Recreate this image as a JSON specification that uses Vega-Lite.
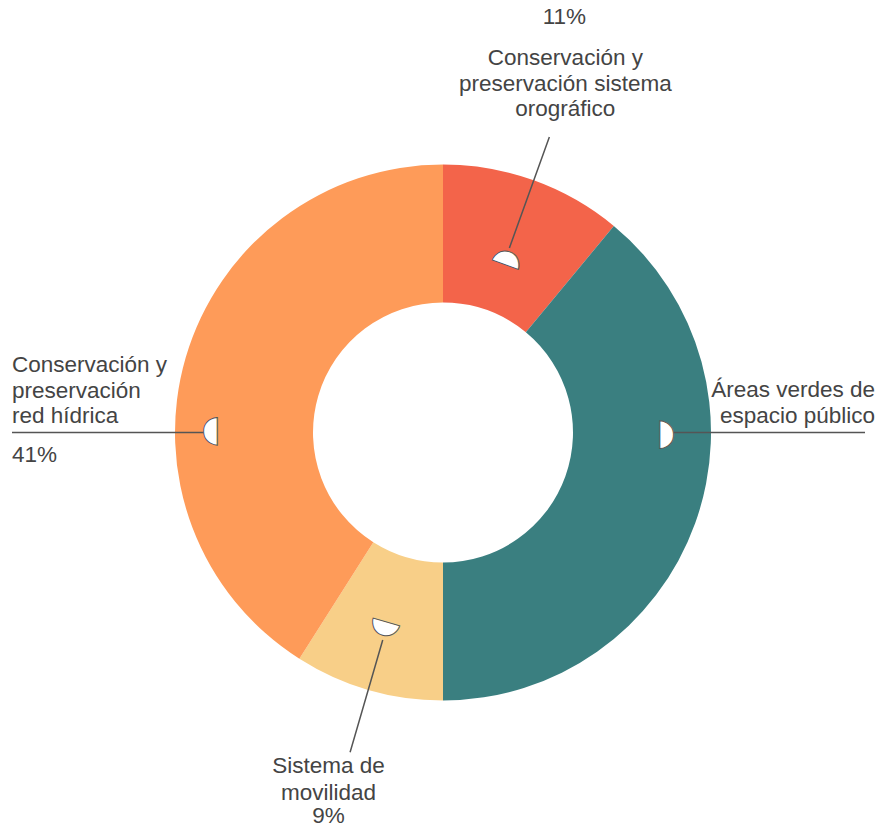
{
  "$schema": "https://vega.github.io/schema/vega-lite/v6.json",
  "width": 880,
  "height": 793,
  "autosize": {"type": "none"},
  "padding": {"left": 3, "top": 36, "right": 0, "bottom": 0},
  "background": "white",
  "config": {"view": {"stroke": null}},
  "data": {
    "values": [
      {"categoria": "Conservación y preservación sistema orográfico", "etiqueta": "Conservación y\npreservación sistema\norográfico", "valor": 11, "orden": 1},
      {"categoria": "Áreas verdes de espacio público", "etiqueta": "Áreas verdes de\nespacio público", "valor": 39, "orden": 2},
      {"categoria": "Sistema de movilidad", "etiqueta": "Sistema de\nmovilidad", "valor": 9, "orden": 3},
      {"categoria": "Conservación y preservación red hídrica", "etiqueta": "Conservación y\npreservación\nred hídrica", "valor": 41, "orden": 4}
    ]
  },
  "transform": [
    {"window": [{"op": "sum", "field": "valor", "as": "fin"}], "sort": [{"field": "orden"}], "frame": [null, 0]},
    {"calculate": "datum.fin - datum.valor", "as": "inicio"},
    {"calculate": "datum.inicio <= 25 && datum.fin >= 25 ? 25 : (datum.inicio <= 75 && datum.fin >= 75 ? 75 : (datum.inicio + datum.fin) / 2)", "as": "pos"},
    {"calculate": "datum.pos * 3.6 - 90", "as": "giro"},
    {"calculate": "datum.valor + '%'", "as": "pct"}
  ],
  "layer": [
    {
      "mark": {"type": "arc", "outerRadius": 268, "innerRadius": 130},
      "encoding": {
        "theta": {"field": "valor", "type": "quantitative", "stack": true, "scale": {"domain": [0, 100]}},
        "order": {"field": "orden", "type": "quantitative"},
        "color": {
          "field": "categoria",
          "type": "nominal",
          "legend": null,
          "scale": {
            "domain": ["Conservación y preservación sistema orográfico", "Áreas verdes de espacio público", "Sistema de movilidad", "Conservación y preservación red hídrica"],
            "range": ["#F3644A", "#3A7F80", "#F8CF88", "#FE9B59"]
          }
        }
      }
    },
    {
      "transform": [{"filter": "datum.orden === 1"}],
      "mark": {"type": "arc", "filled": false, "stroke": "#555555", "strokeWidth": 1.5},
      "encoding": {
        "theta": {"field": "pos", "type": "quantitative", "stack": null, "scale": {"domain": [0, 100]}},
        "theta2": {"field": "pos"},
        "radius": {"value": 314},
        "radius2": {"value": 196}
      }
    },
    {
      "transform": [{"filter": "datum.orden === 2"}],
      "mark": {"type": "arc", "filled": false, "stroke": "#555555", "strokeWidth": 1.5},
      "encoding": {
        "theta": {"field": "pos", "type": "quantitative", "stack": null, "scale": {"domain": [0, 100]}},
        "theta2": {"field": "pos"},
        "radius": {"value": 422},
        "radius2": {"value": 230}
      }
    },
    {
      "transform": [{"filter": "datum.orden === 3"}],
      "mark": {"type": "arc", "filled": false, "stroke": "#555555", "strokeWidth": 1.5},
      "encoding": {
        "theta": {"field": "pos", "type": "quantitative", "stack": null, "scale": {"domain": [0, 100]}},
        "theta2": {"field": "pos"},
        "radius": {"value": 333},
        "radius2": {"value": 216}
      }
    },
    {
      "transform": [{"filter": "datum.orden === 4"}],
      "mark": {"type": "arc", "filled": false, "stroke": "#555555", "strokeWidth": 1.5},
      "encoding": {
        "theta": {"field": "pos", "type": "quantitative", "stack": null, "scale": {"domain": [0, 100]}},
        "theta2": {"field": "pos"},
        "radius": {"value": 431},
        "radius2": {"value": 239}
      }
    },
    {
      "transform": [{"filter": "datum.orden === 1"}],
      "mark": {"type": "text", "text": "◗", "font": "DejaVu Sans", "fontSize": 36, "fill": "white", "stroke": "#555555", "strokeWidth": 1, "align": "center", "baseline": "middle"},
      "encoding": {
        "theta": {"field": "pos", "type": "quantitative", "stack": null, "scale": {"domain": [0, 100]}},
        "radius": {"value": 185},
        "angle": {"field": "giro", "type": "quantitative", "scale": null}
      }
    },
    {
      "transform": [{"filter": "datum.orden === 2"}],
      "mark": {"type": "text", "text": "◗", "font": "DejaVu Sans", "fontSize": 36, "fill": "white", "stroke": "#555555", "strokeWidth": 1, "align": "center", "baseline": "middle"},
      "encoding": {
        "theta": {"field": "pos", "type": "quantitative", "stack": null, "scale": {"domain": [0, 100]}},
        "radius": {"value": 223},
        "angle": {"field": "giro", "type": "quantitative", "scale": null}
      }
    },
    {
      "transform": [{"filter": "datum.orden === 3"}],
      "mark": {"type": "text", "text": "◗", "font": "DejaVu Sans", "fontSize": 36, "fill": "white", "stroke": "#555555", "strokeWidth": 1, "align": "center", "baseline": "middle"},
      "encoding": {
        "theta": {"field": "pos", "type": "quantitative", "stack": null, "scale": {"domain": [0, 100]}},
        "radius": {"value": 204},
        "angle": {"field": "giro", "type": "quantitative", "scale": null}
      }
    },
    {
      "transform": [{"filter": "datum.orden === 4"}],
      "mark": {"type": "text", "text": "◗", "font": "DejaVu Sans", "fontSize": 36, "fill": "white", "stroke": "#555555", "strokeWidth": 1, "align": "center", "baseline": "middle"},
      "encoding": {
        "theta": {"field": "pos", "type": "quantitative", "stack": null, "scale": {"domain": [0, 100]}},
        "radius": {"value": 232},
        "angle": {"field": "giro", "type": "quantitative", "scale": null}
      }
    },
    {
      "transform": [{"filter": "datum.orden === 1"}],
      "mark": {"type": "text", "font": "Liberation Sans", "fontSize": 22.5, "fill": "#444444", "align": "center", "baseline": "alphabetic", "lineBreak": "\n", "lineHeight": 25.5, "dx": 16, "dy": -72},
      "encoding": {
        "theta": {"field": "pos", "type": "quantitative", "stack": null, "scale": {"domain": [0, 100]}},
        "radius": {"value": 314},
        "text": {"field": "etiqueta"}
      }
    },
    {
      "transform": [{"filter": "datum.orden === 1"}],
      "mark": {"type": "text", "font": "Liberation Sans", "fontSize": 22.5, "fill": "#444444", "align": "center", "baseline": "alphabetic", "dx": 15, "dy": -113},
      "encoding": {
        "theta": {"field": "pos", "type": "quantitative", "stack": null, "scale": {"domain": [0, 100]}},
        "radius": {"value": 314},
        "text": {"field": "pct"}
      }
    },
    {
      "transform": [{"filter": "datum.orden === 2"}],
      "mark": {"type": "text", "font": "Liberation Sans", "fontSize": 22.5, "fill": "#444444", "align": "right", "baseline": "alphabetic", "lineBreak": "\n", "lineHeight": 26, "dx": 10, "dy": -35.5},
      "encoding": {
        "theta": {"field": "pos", "type": "quantitative", "stack": null, "scale": {"domain": [0, 100]}},
        "radius": {"value": 422},
        "text": {"field": "etiqueta"}
      }
    },
    {
      "transform": [{"filter": "datum.orden === 3"}],
      "mark": {"type": "text", "font": "Liberation Sans", "fontSize": 22.5, "fill": "#444444", "align": "center", "baseline": "alphabetic", "lineBreak": "\n", "lineHeight": 26.5, "dx": -21.5, "dy": 21},
      "encoding": {
        "theta": {"field": "pos", "type": "quantitative", "stack": null, "scale": {"domain": [0, 100]}},
        "radius": {"value": 333},
        "text": {"field": "etiqueta"}
      }
    },
    {
      "transform": [{"filter": "datum.orden === 3"}],
      "mark": {"type": "text", "font": "Liberation Sans", "fontSize": 22.5, "fill": "#444444", "align": "center", "baseline": "alphabetic", "dx": -21.5, "dy": 71},
      "encoding": {
        "theta": {"field": "pos", "type": "quantitative", "stack": null, "scale": {"domain": [0, 100]}},
        "radius": {"value": 333},
        "text": {"field": "pct"}
      }
    },
    {
      "transform": [{"filter": "datum.orden === 4"}],
      "mark": {"type": "text", "font": "Liberation Sans", "fontSize": 22.5, "fill": "#444444", "align": "left", "baseline": "alphabetic", "lineBreak": "\n", "lineHeight": 25.5, "dy": -60.5},
      "encoding": {
        "theta": {"field": "pos", "type": "quantitative", "stack": null, "scale": {"domain": [0, 100]}},
        "radius": {"value": 431},
        "text": {"field": "etiqueta"}
      }
    },
    {
      "transform": [{"filter": "datum.orden === 4"}],
      "mark": {"type": "text", "font": "Liberation Sans", "fontSize": 22.5, "fill": "#444444", "align": "left", "baseline": "alphabetic", "dy": 29.5},
      "encoding": {
        "theta": {"field": "pos", "type": "quantitative", "stack": null, "scale": {"domain": [0, 100]}},
        "radius": {"value": 431},
        "text": {"field": "pct"}
      }
    }
  ]
}
